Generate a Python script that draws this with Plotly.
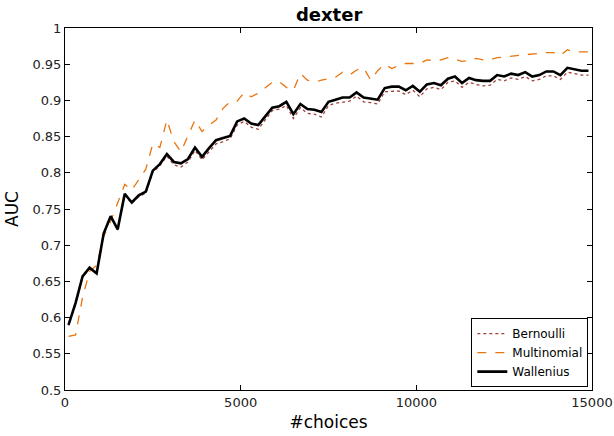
import plotly.graph_objects as go

x_choices = [100 + 200 * i for i in range(75)]

wallenius = [0.590, 0.620, 0.657, 0.669, 0.661, 0.716, 0.740, 0.722, 0.771, 0.759,
             0.769, 0.774, 0.803, 0.812, 0.826, 0.815, 0.813, 0.819, 0.835, 0.822,
             0.834, 0.845, 0.848, 0.851, 0.871, 0.875, 0.868, 0.866, 0.878, 0.890,
             0.892, 0.898, 0.881, 0.895, 0.888, 0.887, 0.884, 0.898, 0.901, 0.904,
             0.904, 0.911, 0.904, 0.903, 0.901, 0.917, 0.919, 0.919, 0.914, 0.920,
             0.912, 0.922, 0.924, 0.921, 0.930, 0.933, 0.924, 0.931, 0.928, 0.927,
             0.927, 0.935, 0.933, 0.937, 0.935, 0.939, 0.933, 0.935, 0.940, 0.940,
             0.935, 0.945, 0.943, 0.941, 0.941]

bernoulli = [0.589, 0.619, 0.656, 0.668, 0.660, 0.715, 0.739, 0.721, 0.769, 0.758,
             0.767, 0.772, 0.801, 0.810, 0.823, 0.811, 0.808, 0.815, 0.831, 0.818,
             0.829, 0.840, 0.843, 0.847, 0.866, 0.871, 0.863, 0.860, 0.873, 0.886,
             0.888, 0.893, 0.875, 0.890, 0.882, 0.881, 0.877, 0.893, 0.896, 0.898,
             0.899, 0.906, 0.898, 0.897, 0.895, 0.912, 0.913, 0.913, 0.908, 0.914,
             0.905, 0.916, 0.918, 0.915, 0.925, 0.927, 0.918, 0.925, 0.922, 0.920,
             0.921, 0.929, 0.927, 0.931, 0.929, 0.933, 0.927, 0.929, 0.934, 0.934,
             0.929, 0.939, 0.937, 0.935, 0.935]

multinomial = [0.574, 0.576, 0.628, 0.664, 0.672, 0.712, 0.733, 0.760, 0.784, 0.776,
               0.790, 0.805, 0.840, 0.835, 0.873, 0.843, 0.829, 0.850, 0.873, 0.857,
               0.866, 0.873, 0.889, 0.898, 0.899, 0.911, 0.905, 0.910, 0.917, 0.925,
               0.926, 0.918, 0.914, 0.937, 0.928, 0.925, 0.928, 0.930, 0.932, 0.939,
               0.935, 0.942, 0.945, 0.928, 0.941, 0.950, 0.944, 0.948, 0.951, 0.951,
               0.951, 0.956, 0.955, 0.956, 0.959, 0.957, 0.954, 0.955, 0.958, 0.956,
               0.956, 0.959, 0.960, 0.961, 0.962, 0.964, 0.965, 0.966, 0.966, 0.966,
               0.962, 0.970, 0.967, 0.967, 0.967]

x_ticks = [0, 5000, 10000, 15000]
x_ticklabels = ["0", "5000", "10000", "15000"]
y_ticks = [0.5, 0.55, 0.6, 0.65, 0.7, 0.75, 0.8, 0.85, 0.9, 0.95, 1.0]
y_ticklabels = ["0.5", "0.55", "0.6", "0.65", "0.7", "0.75", "0.8", "0.85", "0.9", "0.95", "1"]

fig = go.Figure()
fig.add_trace(go.Scatter(x=x_choices, y=bernoulli, mode="lines", name="Bernoulli",
                         line=dict(color="#a0403a", width=1.3, dash="dot")))
fig.add_trace(go.Scatter(x=x_choices, y=multinomial, mode="lines", name="Multinomial",
                         line=dict(color="#e8750f", width=1.3, dash="dash")))
fig.add_trace(go.Scatter(x=x_choices, y=wallenius, mode="lines", name="Wallenius",
                         line=dict(color="black", width=2.6)))

axis_common = dict(showgrid=False, zeroline=False, showline=True, linecolor="black",
                   linewidth=1, mirror="ticks", ticks="inside", ticklen=5,
                   tickcolor="black", tickfont=dict(size=13, color="#222"),
                   automargin=False)

fig.update_layout(
    width=614, height=436,
    margin=dict(l=65, r=22, t=28, b=46),
    paper_bgcolor="white", plot_bgcolor="white",
    font=dict(family="DejaVu Sans", color="black"),
    title=dict(text="<b>dexter</b>", x=0.536, xanchor="center", y=0.966, yanchor="middle",
               font=dict(size=18, color="black")),
    xaxis=dict(range=[0, 15000], tickvals=x_ticks, ticktext=x_ticklabels,
               title=dict(text="#choices", font=dict(size=17), standoff=7), **axis_common),
    yaxis=dict(range=[0.5, 1.0], tickvals=y_ticks, ticktext=y_ticklabels,
               title=dict(text="AUC", font=dict(size=17), standoff=9), **axis_common),
    legend=dict(x=0.993, y=0.008, xanchor="right", yanchor="bottom",
                bgcolor="white", bordercolor="black", borderwidth=1,
                font=dict(size=12), tracegroupgap=0, itemwidth=30),
    showlegend=True,
)

fig.write_html("out.html")
